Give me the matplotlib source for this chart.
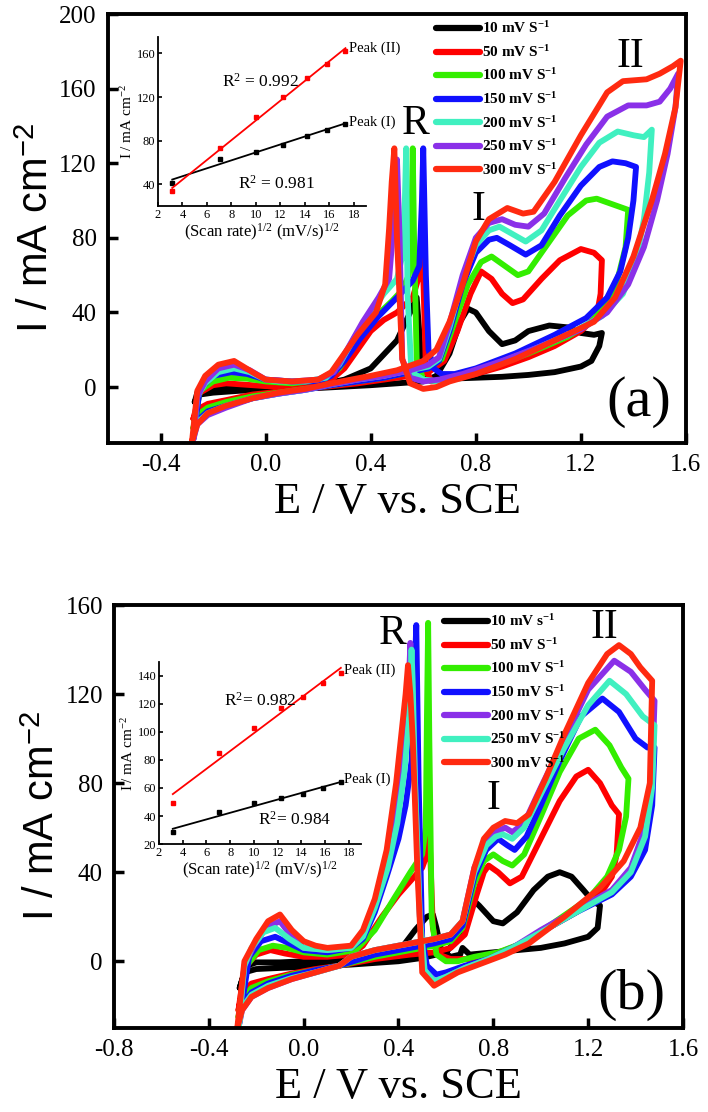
import matplotlib
matplotlib.use("Agg")
import matplotlib.pyplot as plt
import numpy as np

plt.rcParams["font.family"] = ["Liberation Serif", "DejaVu Serif"]
plt.rcParams["mathtext.fontset"] = "custom"
plt.rcParams["mathtext.rm"] = "Liberation Serif"
plt.rcParams["mathtext.it"] = "Liberation Serif:italic"
plt.rcParams["mathtext.bf"] = "Liberation Serif:bold"
plt.rcParams["mathtext.sf"] = "Liberation Sans"

# ---------------- data: panel (a) ----------------
A_LABELS = ["10 mV S$^{\\mathbf{-1}}$", "50 mV S$^{\\mathbf{-1}}$", "100 mV S$^{\\mathbf{-1}}$",
            "150 mV S$^{\\mathbf{-1}}$", "200 mV S$^{\\mathbf{-1}}$", "250 mV S$^{\\mathbf{-1}}$",
            "300 mV S$^{\\mathbf{-1}}$"]
A_COLORS = ["#000000", "#ff0000", "#33ee00", "#1010ff", "#40f0c0", "#8a30e8", "#ff2a10"]

A10_E = [-0.27, -0.25, -0.2, -0.1, 0.0, 0.2, 0.4, 0.5, 0.6, 0.65, 0.7, 0.74, 0.77, 0.8, 0.85, 0.9, 0.95,
         1.0, 1.08, 1.15, 1.2, 1.25, 1.28,
         1.27, 1.24, 1.2, 1.1, 1.0, 0.9, 0.8, 0.7, 0.63, 0.6, 0.59, 0.575, 0.55, 0.5, 0.4, 0.3, 0.2,
         0.0, -0.1, -0.18, -0.23, -0.26, -0.27]
A10_I = [-8, -4, -3, -2, -1.5, -0.5, 1, 2, 3, 6, 18, 35, 42, 40, 30, 23, 25,
         30, 33, 32, 29, 28, 29,
         22, 14, 11, 8, 6.5, 5.5, 5, 4.5, 4, 6, 20, 48, 40, 25, 10, 4, 1,
         0, -0.5, 0, -1, -3, -8]

A50_E = [-0.275, -0.26, -0.22, -0.15, -0.05, 0.05, 0.15, 0.25, 0.35, 0.45, 0.55, 0.62, 0.68, 0.73, 0.78,
         0.82, 0.86, 0.9, 0.94, 0.98, 1.05, 1.12, 1.2, 1.25, 1.28,
         1.275, 1.26, 1.2, 1.1, 1.0, 0.9, 0.8, 0.7, 0.63, 0.61, 0.6, 0.595, 0.585, 0.56, 0.5, 0.45,
         0.4, 0.35, 0.3, 0.25, 0.2, 0.1, 0.0, -0.1, -0.15, -0.2, -0.25, -0.275]
A50_I = [-17, -12, -9, -7, -4, -2.5, -1, 0.5, 2, 4, 6, 8, 14, 30, 50,
         62, 58, 50, 45, 47, 58, 68, 74, 72, 68,
         50, 38, 30, 22, 16, 11, 7, 4, 3, 10, 60, 90, 60, 48, 40, 36,
         30, 20, 10, 4, 1, 0, 0.5, 1.5, 2, 1, -3, -17]

A100_E = [-0.275, -0.26, -0.22, -0.15, -0.05, 0.05, 0.15, 0.25, 0.35, 0.45, 0.55, 0.62, 0.67, 0.72, 0.77,
          0.82, 0.86, 0.9, 0.96, 1.0, 1.08, 1.15, 1.22, 1.26, 1.32, 1.38,
          1.37, 1.34, 1.3, 1.24, 1.15, 1.0, 0.85, 0.72, 0.65, 0.6, 0.575, 0.565, 0.56, 0.555, 0.545,
          0.52, 0.48, 0.42, 0.35, 0.28, 0.22, 0.1, 0.0, -0.07, -0.14, -0.2, -0.25, -0.275]
A100_I = [-22, -15, -11, -8, -5, -3, -1, 1, 3, 5, 8, 10, 15, 35, 55,
          67, 70, 66, 60, 62, 78, 92, 100, 101, 98, 95,
          75, 58, 45, 35, 27, 18, 10, 5, 3, 4, 15, 80, 128, 90, 60,
          52, 46, 38, 25, 10, 4, 2, 3, 4.5, 5, 3, -2, -22]

A150_E = [-0.275, -0.26, -0.22, -0.15, -0.05, 0.05, 0.15, 0.25, 0.35, 0.45, 0.55, 0.62, 0.66, 0.7, 0.75,
          0.8, 0.85, 0.88, 0.93, 0.99, 1.05, 1.12, 1.2, 1.27, 1.32, 1.37, 1.41,
          1.4, 1.38, 1.35, 1.3, 1.22, 1.1, 0.95, 0.8, 0.72, 0.67, 0.64, 0.62, 0.61, 0.6, 0.595, 0.585,
          0.56, 0.5, 0.43, 0.36, 0.3, 0.25, 0.2, 0.1, 0.0, -0.07, -0.13, -0.2, -0.25, -0.275]
A150_I = [-26, -18, -13, -10, -6, -3.5, -1.5, 1, 3, 5, 8, 10, 14, 30, 55,
          72, 79, 80, 76, 71, 76, 92, 108, 118, 121, 120, 118,
          100, 80, 62, 48, 37, 28, 18, 10, 7, 7, 10, 20, 60, 128, 100, 65,
          57, 48, 38, 26, 14, 6, 3, 3, 4, 7, 8, 6, -1, -26]

A200_E = [-0.275, -0.26, -0.22, -0.15, -0.05, 0.05, 0.15, 0.25, 0.35, 0.45, 0.55, 0.62, 0.66, 0.7, 0.75,
          0.8, 0.85, 0.89, 0.94, 0.99, 1.05, 1.12, 1.2, 1.27, 1.34, 1.4, 1.44, 1.47,
          1.46, 1.44, 1.41, 1.36, 1.28, 1.15, 1.0, 0.85, 0.72, 0.66, 0.6, 0.555, 0.54, 0.535, 0.53, 0.52,
          0.5, 0.45, 0.4, 0.34, 0.28, 0.23, 0.15, 0.05, 0.0, -0.06, -0.12, -0.18, -0.23, -0.26, -0.275]
A200_I = [-28, -19, -14, -10, -6, -3.5, -1.5, 1.5, 4, 6, 9, 11, 15, 32, 58,
          76, 84, 86, 82, 78, 84, 100, 118, 131, 137, 135, 134, 138,
          115, 90, 68, 50, 38, 28, 19, 11, 5, 3, 4, 8, 50, 128, 100, 70,
          58, 50, 40, 27, 12, 5, 3, 3, 4, 8, 10, 8, 2, -5, -28]

A250_E = [-0.275, -0.26, -0.22, -0.15, -0.05, 0.05, 0.15, 0.25, 0.35, 0.45, 0.55, 0.62, 0.66, 0.7, 0.75,
          0.8, 0.85, 0.9, 0.95, 1.0, 1.06, 1.14, 1.22, 1.3, 1.38, 1.45, 1.5, 1.54, 1.57,
          1.56, 1.53, 1.49, 1.44, 1.38, 1.3, 1.2, 1.05, 0.9, 0.75, 0.66, 0.6, 0.55, 0.52, 0.51, 0.5,
          0.49, 0.48, 0.47, 0.43, 0.37, 0.31, 0.26, 0.2, 0.1, 0.0, -0.06, -0.12, -0.18, -0.23, -0.26, -0.275]
A250_I = [-28, -20, -15, -11, -6, -3.5, -1.5, 1.5, 4, 6, 9, 12, 16, 34, 60,
          80, 88, 90, 87, 86, 93, 112, 130, 145, 151, 151, 153, 160, 168,
          150, 125, 100, 75, 55, 40, 31, 22, 14, 7, 4, 3, 5, 15, 80, 122,
          100, 75, 58, 48, 35, 20, 8, 4, 3, 4, 9, 12, 10, 3, -5, -28]

A300_E = [-0.28, -0.26, -0.22, -0.15, -0.05, 0.05, 0.15, 0.25, 0.4, 0.5, 0.6, 0.65, 0.7, 0.75, 0.8,
          0.85, 0.92, 0.98, 1.02, 1.1, 1.2, 1.3, 1.36, 1.45, 1.5, 1.55, 1.58,
          1.56, 1.52, 1.47, 1.4, 1.33, 1.25, 1.1, 0.95, 0.8, 0.7, 0.65, 0.6, 0.55, 0.52, 0.5, 0.49,
          0.48, 0.47, 0.455, 0.42, 0.35, 0.3, 0.25, 0.2, 0.1, 0.0, -0.05, -0.12, -0.18, -0.23, -0.26, -0.28]
A300_I = [-29, -20, -14, -10, -6, -3, -1, 2, 6, 9, 14, 20, 35, 55, 78,
          90, 96, 93, 94, 110, 135, 158, 164, 165, 168, 172, 175,
          150, 125, 100, 70, 48, 35, 25, 15, 7, 3, 0, -1, 2, 15, 80, 128,
          110, 85, 55, 40, 28, 18, 8, 4, 3, 4, 8, 14, 12, 6, -2, -29]

A_E = [A10_E, A50_E, A100_E, A150_E, A200_E, A250_E, A300_E]
A_I = [A10_I, A50_I, A100_I, A150_I, A200_I, A250_I, A300_I]

# inset (a)
A_RATE = [10, 50, 100, 150, 200, 250, 300]
A_PEAK1 = [41, 63, 70, 76.4, 84.6, 90, 95]
A_PEAK2 = [33.4, 73.5, 101.7, 120, 137, 150, 162.4]

# ---------------- data: panel (b) ----------------
B_LABELS = ["10 mV s$^{\\mathbf{-1}}$", "50 mV S$^{\\mathbf{-1}}$", "100 mV S$^{\\mathbf{-1}}$",
            "150 mV S$^{\\mathbf{-1}}$", "200 mV S$^{\\mathbf{-1}}$", "250 mV S$^{\\mathbf{-1}}$",
            "300 mV S$^{\\mathbf{-1}}$"]
B_COLORS = ["#000000", "#ff0000", "#33ee00", "#1010ff", "#8a30e8", "#40f0c0", "#ff2a10"]

B10_E = [-0.27, -0.25, -0.2, -0.1, 0.0, 0.2, 0.4, 0.5, 0.6, 0.65, 0.69, 0.71, 0.74, 0.8, 0.84, 0.9, 0.97,
         1.03, 1.08, 1.13, 1.18, 1.22, 1.25,
         1.24, 1.2, 1.1, 1.0, 0.9, 0.8, 0.7, 0.67, 0.66, 0.62, 0.58, 0.56, 0.545, 0.52, 0.47, 0.42,
         0.35, 0.2, 0.0, -0.1, -0.2, -0.24, -0.27]
B10_I = [-12, -5, -3.5, -3, -2.5, -1.5, 0, 1.5, 4, 10, 24, 28, 25, 18, 17, 22, 32,
         38, 40, 38, 32, 27, 25,
         15, 11, 8, 6, 5, 4, 3, 6, 3, 2, 5, 15, 21, 20, 14, 7,
         3, 1, 0, -0.5, -0.5, -2, -12]

B50_E = [-0.275, -0.26, -0.22, -0.15, -0.05, 0.05, 0.15, 0.3, 0.45, 0.55, 0.62, 0.68, 0.73, 0.76, 0.78,
         0.82, 0.87, 0.92, 1.0, 1.08, 1.15, 1.2, 1.25, 1.3, 1.33,
         1.32, 1.3, 1.25, 1.15, 1.0, 0.9, 0.8, 0.7, 0.62, 0.57, 0.545, 0.535, 0.53, 0.52, 0.5, 0.45,
         0.4, 0.33, 0.25, 0.2, 0.1, 0.0, -0.08, -0.14, -0.2, -0.25, -0.275]
B50_I = [-22, -14, -10, -8, -5.5, -3.5, -2, 1, 3, 4, 6, 12, 30, 40, 43,
         40, 35, 38, 55, 72, 83, 86, 80, 70, 66,
         48, 38, 30, 22, 13, 7, 3, 1, 1, 3, 15, 45, 58, 48, 42, 36,
         30, 20, 7, 3, 2, 2, 3.5, 5, 3, -3, -22]

B100_E = [-0.275, -0.26, -0.22, -0.15, -0.05, 0.05, 0.15, 0.3, 0.45, 0.55, 0.62, 0.67, 0.72, 0.76, 0.8,
          0.84, 0.88, 0.93, 1.0, 1.08, 1.16, 1.23, 1.29, 1.34, 1.37,
          1.36, 1.33, 1.28, 1.2, 1.05, 0.92, 0.82, 0.72, 0.65, 0.6, 0.56, 0.54, 0.53, 0.525, 0.52, 0.515,
          0.5, 0.45, 0.38, 0.3, 0.22, 0.1, 0.0, -0.07, -0.13, -0.19, -0.24, -0.275]
B100_I = [-25, -17, -12, -9, -6, -4, -2, 2, 5, 7, 9, 15, 35, 45, 48,
          45, 43, 48, 65, 85, 100, 104, 97, 87, 82,
          65, 50, 38, 28, 17, 8, 4, 2, 0, 0, 3, 20, 100, 152, 110, 60,
          48, 40, 28, 14, 5, 3, 4, 6, 7, 5, -2, -25]

B150_E = [-0.275, -0.26, -0.22, -0.15, -0.05, 0.05, 0.15, 0.3, 0.45, 0.55, 0.62, 0.67, 0.72, 0.77, 0.82,
          0.86, 0.89, 0.94, 1.0, 1.08, 1.17, 1.26, 1.33, 1.4, 1.45, 1.48,
          1.47, 1.44, 1.38, 1.3, 1.15, 1.0, 0.88, 0.78, 0.68, 0.6, 0.56, 0.52, 0.5, 0.485, 0.475, 0.465,
          0.455, 0.43, 0.4, 0.35, 0.3, 0.25, 0.2, 0.1, 0.0, -0.06, -0.12, -0.18, -0.23, -0.275]
B150_I = [-30, -20, -14, -10, -6.5, -4, -2, 3, 6, 8, 10, 16, 38, 50, 55,
          52, 50, 56, 70, 90, 110, 118, 112, 100, 96, 96,
          70, 50, 38, 30, 22, 13, 6, 1, -2, -5, -6, -2, 10, 80, 151, 120,
          90, 70, 55, 38, 22, 10, 6, 4, 5, 8, 11, 9, 2, -30]

B200_E = [-0.275, -0.26, -0.22, -0.15, -0.05, 0.05, 0.15, 0.2, 0.3, 0.45, 0.55, 0.62, 0.67, 0.72, 0.77,
          0.81, 0.85, 0.88, 0.93, 1.0, 1.1, 1.2, 1.31, 1.38, 1.44, 1.48,
          1.47, 1.44, 1.38, 1.3, 1.15, 1.0, 0.88, 0.78, 0.68, 0.6, 0.55, 0.51, 0.49, 0.47, 0.455, 0.45,
          0.44, 0.42, 0.39, 0.35, 0.3, 0.25, 0.2, 0.1, 0.0, -0.05, -0.1, -0.16, -0.21, -0.25, -0.275]
B200_I = [-30, -22, -16, -12, -8, -5, -2, 2, 5, 8, 10, 12, 18, 42, 54,
          58, 60, 58, 62, 78, 100, 122, 135, 130, 122, 117,
          85, 60, 42, 32, 23, 14, 6, 1, -3, -7, -9, -4, 20, 80, 130, 143,
          115, 90, 65, 45, 26, 12, 6, 5, 6, 11, 18, 15, 7, -2, -30]

B250_E = [-0.275, -0.26, -0.22, -0.15, -0.05, 0.05, 0.15, 0.2, 0.3, 0.45, 0.55, 0.62, 0.67, 0.72, 0.77,
          0.81, 0.84, 0.88, 0.93, 1.0, 1.1, 1.2, 1.29, 1.36, 1.43, 1.48,
          1.47, 1.44, 1.38, 1.3, 1.15, 1.0, 0.88, 0.78, 0.68, 0.6, 0.55, 0.51, 0.49, 0.47, 0.46, 0.455,
          0.445, 0.425, 0.395, 0.355, 0.3, 0.25, 0.2, 0.1, 0.0, -0.06, -0.12, -0.17, -0.22, -0.25, -0.275]
B250_I = [-30, -21, -15, -11, -7.5, -5, -2, 2, 5, 8, 10, 12, 18, 40, 52,
          56, 57, 55, 60, 75, 96, 115, 126, 120, 110, 106,
          78, 56, 40, 31, 22, 13, 6, 1, -3, -7, -9, -4, 20, 80, 125, 140,
          110, 85, 62, 42, 24, 11, 6, 5, 6, 10, 15, 13, 6, -2, -30]

B300_E = [-0.28, -0.26, -0.22, -0.15, -0.05, 0.05, 0.15, 0.2, 0.3, 0.45, 0.55, 0.62, 0.67, 0.72, 0.76,
          0.8, 0.85, 0.9, 0.95, 1.02, 1.1, 1.2, 1.28, 1.33, 1.38, 1.42, 1.47,
          1.46, 1.42, 1.35, 1.25, 1.1, 0.95, 0.85, 0.75, 0.65, 0.55, 0.5, 0.48, 0.46, 0.45, 0.44,
          0.43, 0.42, 0.39, 0.35, 0.3, 0.25, 0.2, 0.1, 0.05, 0.0, -0.05, -0.1, -0.15, -0.2, -0.25, -0.28]
B300_I = [-30, -22, -16, -12, -8, -5, -2, 2, 5, 8, 10, 12, 18, 42, 55,
          60, 63, 62, 66, 82, 102, 125, 138, 142, 138, 132, 126,
          80, 60, 45, 33, 20, 8, 3, -1, -5, -11, -5, 40, 100, 120, 133,
          120, 110, 80, 50, 28, 14, 7, 6, 7, 9, 14, 21, 18, 10, 0, -30]

B_E = [B10_E, B50_E, B100_E, B150_E, B200_E, B250_E, B300_E]
B_I = [B10_I, B50_I, B100_I, B150_I, B200_I, B250_I, B300_I]

# inset (b)
B_RATE = [10, 50, 100, 150, 200, 250, 300]
B_PEAK1 = [28.3, 42.6, 49, 52.5, 55.9, 60, 64]
B_PEAK2 = [49.6, 84.8, 103, 117, 124.8, 135.2, 142]


def style_main(ax, xlim, ylim, xticks, yticks):
    ax.set_xlim(*xlim)
    ax.set_ylim(*ylim)
    ax.set_xticks(xticks)
    ax.set_yticks(yticks)
    ax.set_xticklabels([f"{t:.1f}" for t in xticks])
    ax.tick_params(direction="in", length=7, width=2.5, labelsize=18, pad=8)
    for s in ax.spines.values():
        s.set_linewidth(2.8)
    ax.set_xlabel("E / V vs. SCE", fontsize=32, labelpad=4)
    ax.set_ylabel("I / mA cm$^{\\mathsf{-2}}$", fontsize=30, family="Liberation Sans", labelpad=2)


def draw_panel(ax, e_list, i_list, colors, labels, leg_anchor):
    for e, i, c, lab in zip(e_list, i_list, colors, labels):
        ax.plot(e, i, color=c, lw=4.2, solid_joinstyle="round", solid_capstyle="round", label=lab)
    leg = ax.legend(loc="upper left", bbox_to_anchor=leg_anchor, frameon=False,
                    prop={"family": "Liberation Serif", "weight": "bold", "size": 11},
                    handlelength=2.9, handletextpad=0.1, labelspacing=0.5,
                    borderpad=0, borderaxespad=0)
    for h in leg.get_lines():
        h.set_linewidth(4.5)


def draw_inset(ax, rate, p1, p2, xlim, ylim, yticks, r2_1, r2_2, pos1, pos2):
    x = np.sqrt(np.array(rate, dtype=float))
    for p, c in [(p1, "black"), (p2, "red")]:
        k, b = np.polyfit(x, p, 1)
        ax.plot([x[0], x[-1]], [k * x[0] + b, k * x[-1] + b], color=c, lw=1.3)
        ax.plot(x, p, "s", color=c, ms=3.2)
    ax.set_xlim(*xlim)
    ax.set_ylim(*ylim)
    ax.set_xticks(range(2, 19, 2))
    ax.set_yticks(yticks)
    ax.spines["top"].set_visible(False)
    ax.spines["right"].set_visible(False)
    for s in ["left", "bottom"]:
        ax.spines[s].set_linewidth(1.3)
    ax.patch.set_alpha(0)
    ax.tick_params(direction="in", length=3, width=1.2, labelsize=9, pad=2)
    ax.set_xlabel("(Scan rate)$^{1/2}$ (mV/s)$^{1/2}$", fontsize=12, labelpad=1)
    ax.set_ylabel("I / mA cm$^{-2}$", fontsize=11, labelpad=1)
    ax.text(x[-1] + 0.3, p2[-1] + 2, "Peak (II)", fontsize=10.5, ha="left", va="center")
    ax.text(x[-1] + 0.3, p1[-1] + 2, "Peak (I)", fontsize=10.5, ha="left", va="center")
    ax.text(pos2[0], pos2[1], r2_2, fontsize=12.5, ha="left", va="center")
    ax.text(pos1[0], pos1[1], r2_1, fontsize=12.5, ha="left", va="center")


fig = plt.figure(figsize=(7.08, 11.12), dpi=100)

# panel (a)
axa = fig.add_axes([0.1525, 0.6016, 0.8164, 0.3858])
draw_panel(axa, A_E, A_I, A_COLORS, A_LABELS, (0.567, 0.985))
style_main(axa, (-0.6, 1.6), (-30, 200), [-0.4, 0.0, 0.4, 0.8, 1.2, 1.6], [0, 40, 80, 120, 160, 200])
axa.text(0.57, 141, "R", fontsize=30, ha="center", va="center")
axa.text(0.81, 95, "I", fontsize=30, ha="center", va="center")
axa.text(1.39, 177, "II", fontsize=30, ha="center", va="center")
axa.text(1.42, -8, "(a)", fontsize=42, ha="center", va="center")

ina = fig.add_axes([0.2232, 0.8147, 0.2938, 0.152])
draw_inset(ina, A_RATE, A_PEAK1, A_PEAK2, (2, 19), (20, 175), [40, 80, 120, 160],
           "R$^2$ = 0.981", "R$^2$ = 0.992", (8.5, 40), (7.2, 134))

# panel (b)
axb = fig.add_axes([0.161, 0.0755, 0.8037, 0.3804])
draw_panel(axb, B_E, B_I, B_COLORS, B_LABELS, (0.58, 0.98))
style_main(axb, (-0.8, 1.6), (-30, 160), [-0.8, -0.4, 0.0, 0.4, 0.8, 1.2, 1.6], [0, 40, 80, 120, 160])
axb.text(0.376, 147, "R", fontsize=30, ha="center", va="center")
axb.text(0.80, 73, "I", fontsize=30, ha="center", va="center")
axb.text(1.27, 150, "II", fontsize=30, ha="center", va="center")
axb.text(1.384, -15, "(b)", fontsize=42, ha="center", va="center")

inb = fig.add_axes([0.2246, 0.241, 0.285, 0.1637])
draw_inset(inb, B_RATE, B_PEAK1, B_PEAK2, (2, 19), (20, 150), [20, 40, 60, 80, 100, 120, 140],
           "R$^2$= 0.984", "R$^2$= 0.982", (10.3, 37), (7.5, 122))

fig.savefig("out.png", dpi=100)
